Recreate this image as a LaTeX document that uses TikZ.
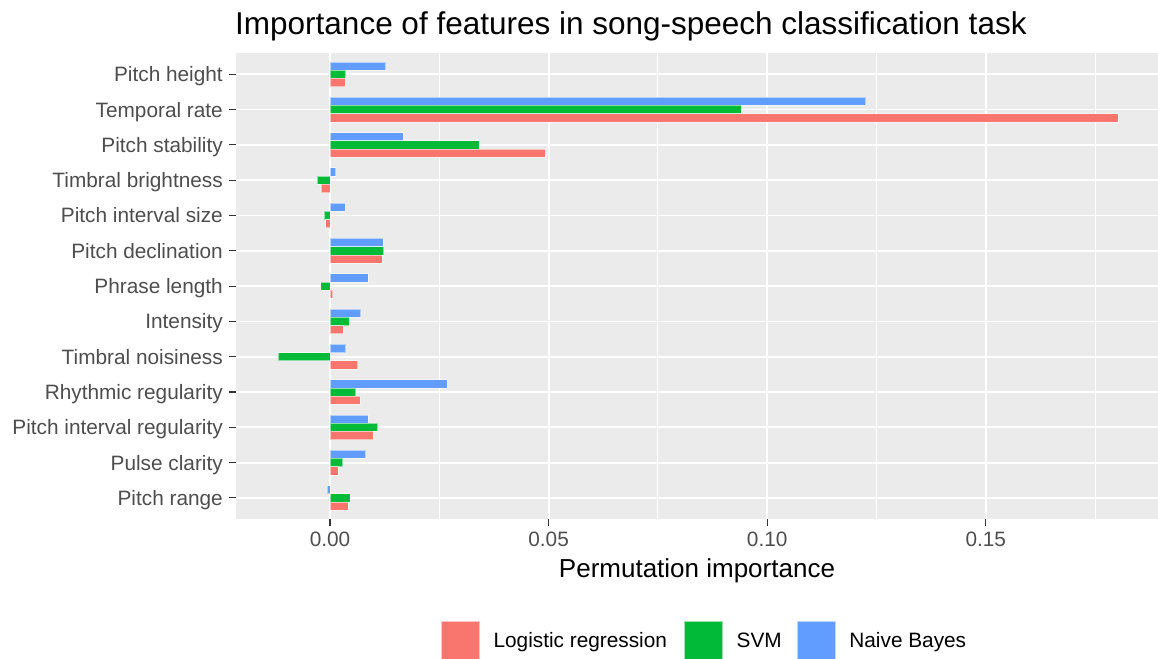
\documentclass[tikz,border=0pt]{standalone}
\usepackage{fontspec}
\setmainfont{Liberation Sans}
\definecolor{lrc}{HTML}{F8766D}
\definecolor{svmc}{HTML}{00BA38}
\definecolor{nbc}{HTML}{619CFF}
\definecolor{panelbg}{HTML}{EBEBEB}
\definecolor{ticktext}{HTML}{4D4D4D}
\definecolor{tickc}{HTML}{333333}
\newcommand{\databar}[4]{% row, value, colour, slot (0 top,1 mid,2 bottom)
  \pgfmathsetmacro{\yc}{74.3+35.3*#1}
  \pgfmathsetmacro{\ya}{\yc-12.35+8.233*#4}
  \pgfmathsetmacro{\yb}{\ya+8.233}
  \pgfmathsetmacro{\xe}{330+4372*#2}
  \filldraw[fill=#3, draw=white, draw opacity=0.55, line width=0.7bp] (330,\ya) rectangle (\xe,\yb);
}
\begin{document}
\begin{tikzpicture}[x=1bp,y=-1bp,
  ticklabel/.style={text=ticktext, inner sep=0pt, font=\fontsize{20.8bp}{24bp}\selectfont},
  legtext/.style={text=black, inner sep=0pt, anchor=base west, font=\fontsize{20.8bp}{24bp}\selectfont},
  legkey/.style={draw=white, draw opacity=0.6, line width=0.7bp},
  majorgrid/.style={white, line width=1.8bp},
  minorgrid/.style={white, line width=0.9bp},
  tickmark/.style={tickc, line width=1.1bp}]
\useasboundingbox (0,0) rectangle (1158,659);
% panel
\fill[panelbg] (236,53.5) rectangle (1158,519);
\foreach \v in {0.025,0.075,0.125,0.175}
  \draw[minorgrid] ({330+4372*\v},53.5) -- ({330+4372*\v},519);
\foreach \v in {0,0.05,0.1,0.15}
  \draw[majorgrid] ({330+4372*\v},53.5) -- ({330+4372*\v},519);
\foreach \i in {0,...,12}
  \draw[majorgrid] (236,{74.3+35.3*\i}) -- (1158,{74.3+35.3*\i});
% bars and labels
\foreach \i/\name/\lr/\svm/\nb in {
  0/Pitch height/0.0035/0.0036/0.0127,
  1/Temporal rate/0.1802/0.0941/0.1225,
  2/Pitch stability/0.0492/0.0341/0.0168,
  3/Timbral brightness/-0.0020/-0.0030/0.0013,
  4/Pitch interval size/-0.0010/-0.0014/0.0034,
  5/Pitch declination/0.0119/0.0123/0.0121,
  6/Phrase length/0.0006/-0.0021/0.0088,
  7/Intensity/0.0030/0.0044/0.0070,
  8/Timbral noisiness/0.0063/-0.0119/0.0036,
  9/Rhythmic regularity/0.0069/0.0059/0.0268,
  10/Pitch interval regularity/0.0099/0.0109/0.0088,
  11/Pulse clarity/0.0019/0.0029/0.0082,
  12/Pitch range/0.0042/0.0046/-0.0007}{
  \databar{\i}{\nb}{nbc}{0}
  \databar{\i}{\svm}{svmc}{1}
  \databar{\i}{\lr}{lrc}{2}
  \draw[tickmark] (229,{74.3+35.3*\i}) -- (236,{74.3+35.3*\i});
  \node[ticklabel, anchor=base east] (lab\i) at (223,{74.3+35.3*\i+7.45}) {\name};
}
% x axis
\foreach \v/\t [count=\k] in {0/0.00,0.05/0.05,0.1/0.10,0.15/0.15}{
  \draw[tickmark] ({330+4372*\v},519) -- ({330+4372*\v},526);
  \node[ticklabel, anchor=base] (xl\k) at ({330+4372*\v},546) {\t};
}
\node[inner sep=0pt, anchor=base, font=\fontsize{26bp}{30bp}\selectfont] (xtitle) at (697,577) {Permutation importance};
% title
\node[inner sep=0pt, anchor=base west, font=\fontsize{31.5bp}{36bp}\selectfont] (title) at (235,34.5) {Importance of features in song-speech classification task};
% legend
\filldraw[legkey, fill=lrc] (441.3,621) rectangle (479.6,659.3);
\node[legtext] (leglr) at (493.4,647.5) {Logistic regression};
\filldraw[legkey, fill=svmc] (684.3,621) rectangle (722.6,659.3);
\node[legtext] (legsvm) at (736.5,647.5) {SVM};
\filldraw[legkey, fill=nbc] (797.2,621) rectangle (835.5,659.3);
\node[legtext] (legnb) at (849.2,647.5) {Naive Bayes};
\end{tikzpicture}
\end{document}
